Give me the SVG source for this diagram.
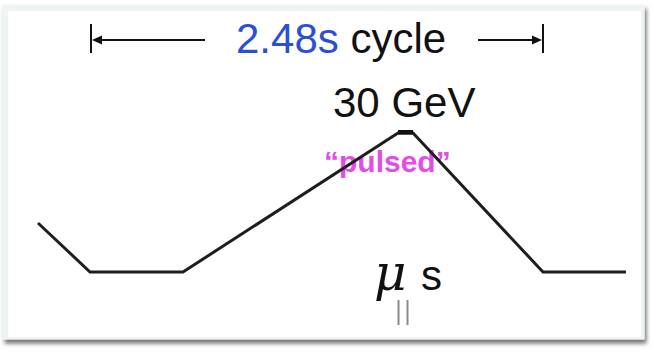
<svg xmlns="http://www.w3.org/2000/svg" width="652" height="351" viewBox="0 0 652 351">
  <defs>
    <filter id="shadow" x="-5%" y="-5%" width="112%" height="115%">
      <feDropShadow dx="2" dy="4" stdDeviation="2.2" flood-color="#000" flood-opacity="0.55"/>
    </filter>
    <style>
      .lbl { font-family: "Liberation Sans", Arial, sans-serif; font-size: 42px; fill: #111; }
      .dim { stroke: #111; stroke-width: 2; fill: none; }
      .head { fill: #111; }
      .wave { stroke: #1e1e1e; stroke-width: 3; fill: none; stroke-linejoin: miter; }
    </style>
  </defs>

  <!-- card -->
  <rect x="0" y="0" width="652" height="351" fill="#ffffff"/>
  <rect x="2.5" y="4.5" width="642" height="335" fill="#eef3f3" filter="url(#shadow)"/>
  <rect x="8" y="11" width="633" height="326" fill="#ffffff"/>

  <!-- cycle dimension bar -->
  <g id="cycle-bar">
    <line class="dim" x1="91" y1="24" x2="91" y2="53"/>
    <line class="dim" x1="543" y1="24" x2="543" y2="53"/>
    <line class="dim" x1="205" y1="40" x2="96" y2="40"/>
    <line class="dim" x1="478" y1="40" x2="538" y2="40"/>
    <polygon class="head" points="92,40 102,35.5 102,44.5"/>
    <polygon class="head" points="542,40 532,35.5 532,44.5"/>
    <text class="lbl" x="236" y="53" font-size="43"><tspan fill="#2a4fd6">2.48s</tspan> cycle</text>
  </g>

  <!-- peak energy label -->
  <g id="energy">
    <text class="lbl" x="333" y="117">30 GeV</text>
  </g>

  <g id="pulsed">
    <text x="324" y="172" font-family="'Liberation Sans', Arial, sans-serif" font-weight="bold" font-size="30" fill="#e34de6">“pulsed”</text>
  </g>

  <!-- ramp waveform -->
  <g id="waveform">
    <polyline class="wave" points="38,223 90,272 183,272 398,133 413,133 543,272 626,272"/>
    <rect x="398" y="130" width="15" height="4.5" fill="#111"/>
  </g>

  <!-- microsecond pulse width -->
  <g id="micro">
    <text x="374" y="290" font-family="'DejaVu Serif', serif" font-style="italic" font-size="50" fill="#111">μ</text>
    <text class="lbl" x="421" y="290">s</text>
    <line x1="398.5" y1="300" x2="398.5" y2="325" stroke="#8a8a8a" stroke-width="2"/>
    <line x1="407.5" y1="300" x2="407.5" y2="325" stroke="#8a8a8a" stroke-width="2"/>
  </g>
</svg>
